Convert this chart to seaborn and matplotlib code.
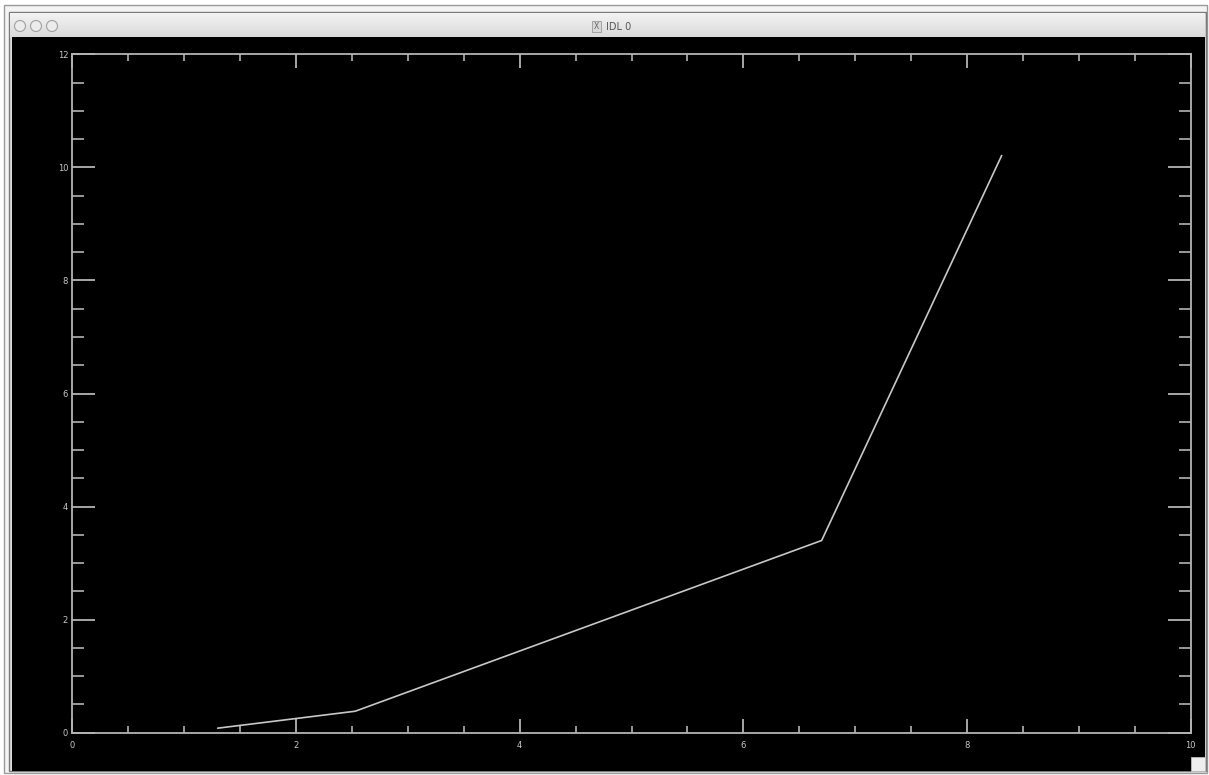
import numpy as np
import pandas as pd
import matplotlib
matplotlib.use("Agg")
import matplotlib.pyplot as plt
import seaborn as sns
from matplotlib.patches import Rectangle, Ellipse
from matplotlib.ticker import MultipleLocator

# Data
x_vals = [1.3, 2.53, 6.7, 8.31]
y_vals = [0.08, 0.38, 3.4, 10.21]
x_ticks = [0, 2, 4, 6, 8, 10]
y_ticks = [0, 2, 4, 6, 8, 10, 12]
window_title = "IDL 0"

df = pd.DataFrame({"x": x_vals, "y": y_vals})

sns.set_theme(style="ticks")
plt.rcParams['font.family'] = ['DejaVu Sans']

W, H = 1209, 775
fig = plt.figure(figsize=(W / 100, H / 100), dpi=100, facecolor="white")


def px_rect(x0, y0, x1, y1, **kw):
    # rectangle given in pixel coords (origin top-left)
    return Rectangle((x0 / W, 1 - y1 / H), (x1 - x0) / W, (y1 - y0) / H,
                     transform=fig.transFigure, zorder=-5, **kw)


# window frame
fig.patches.append(px_rect(4, 5, 1207, 773, facecolor="#f4f4f4", edgecolor="#9a9a9a", lw=1))
fig.patches.append(px_rect(9, 12, 1206, 771, facecolor="#dcdcdc", edgecolor="#7a7a7a", lw=1))
# title bar gradient
for i in range(25):
    c = 0.95 - 0.10 * i / 24
    fig.patches.append(px_rect(10, 13 + i, 1205, 14 + i, facecolor=(c, c, c), edgecolor="none"))
fig.patches.append(px_rect(12, 37, 1205, 771, facecolor="black", edgecolor="none"))
for cx in (20, 36, 52):
    fig.patches.append(Ellipse((cx / W, 1 - 26 / H), 11 / W, 11 / H, transform=fig.transFigure,
                               facecolor="#ececec", edgecolor="#a0a0a0", lw=0.8, zorder=-4))
fig.patches.append(px_rect(592, 21, 601, 32, facecolor="#d8d8d8", edgecolor="#999999", lw=0.6))
fig.text(596.5 / W, 1 - 26.5 / H, "X", fontsize=5.5, color="#666666", ha="center", va="center")
fig.text(606 / W, 1 - 26.5 / H, window_title, fontsize=7, color="#555555", ha="left", va="center")
# resize grip
fig.patches.append(px_rect(1191, 757, 1205, 771, facecolor="#eeeeee", edgecolor="#bbbbbb", lw=0.6))

# plot area
ax_l, ax_r, ax_t, ax_b = 72.3, 1190.7, 54.3, 732.7
ax = fig.add_axes([ax_l / W, 1 - ax_b / H, (ax_r - ax_l) / W, (ax_b - ax_t) / H])
ax.set_zorder(5)
ax.set_facecolor("black")

line_color = "#c8c8c8"
axis_color = "#b4b4b4"
sns.lineplot(data=df, x="x", y="y", ax=ax, color=line_color, lw=1.2, sort=False)

ax.set_xlim(0, 10)
ax.set_ylim(0, 12)
ax.set_xticks(x_ticks)
ax.set_yticks(y_ticks)
ax.set_xticklabels([str(t) for t in x_ticks])
ax.set_yticklabels([str(t) for t in y_ticks])
ax.xaxis.set_minor_locator(MultipleLocator(0.5))
ax.yaxis.set_minor_locator(MultipleLocator(0.5))
ax.set_xlabel("")
ax.set_ylabel("")

for s in ax.spines.values():
    s.set_color(axis_color)
    s.set_linewidth(1.3)
    s.set_visible(True)

ax.tick_params(axis="x", which="major", direction="in", length=10, width=1.3,
               color=axis_color, labelcolor="#c8c8c8", labelsize=6, pad=6,
               top=True, bottom=True)
ax.tick_params(axis="x", which="minor", direction="in", length=5, width=1.2,
               color=axis_color, top=True, bottom=True)
ax.tick_params(axis="y", which="major", direction="in", length=16.5, width=1.3,
               color=axis_color, labelcolor="#c8c8c8", labelsize=6, pad=3,
               left=True, right=True)
ax.tick_params(axis="y", which="minor", direction="in", length=8.5, width=1.2,
               color=axis_color, left=True, right=True)

fig.savefig("out.png", dpi=100, facecolor=fig.get_facecolor())
